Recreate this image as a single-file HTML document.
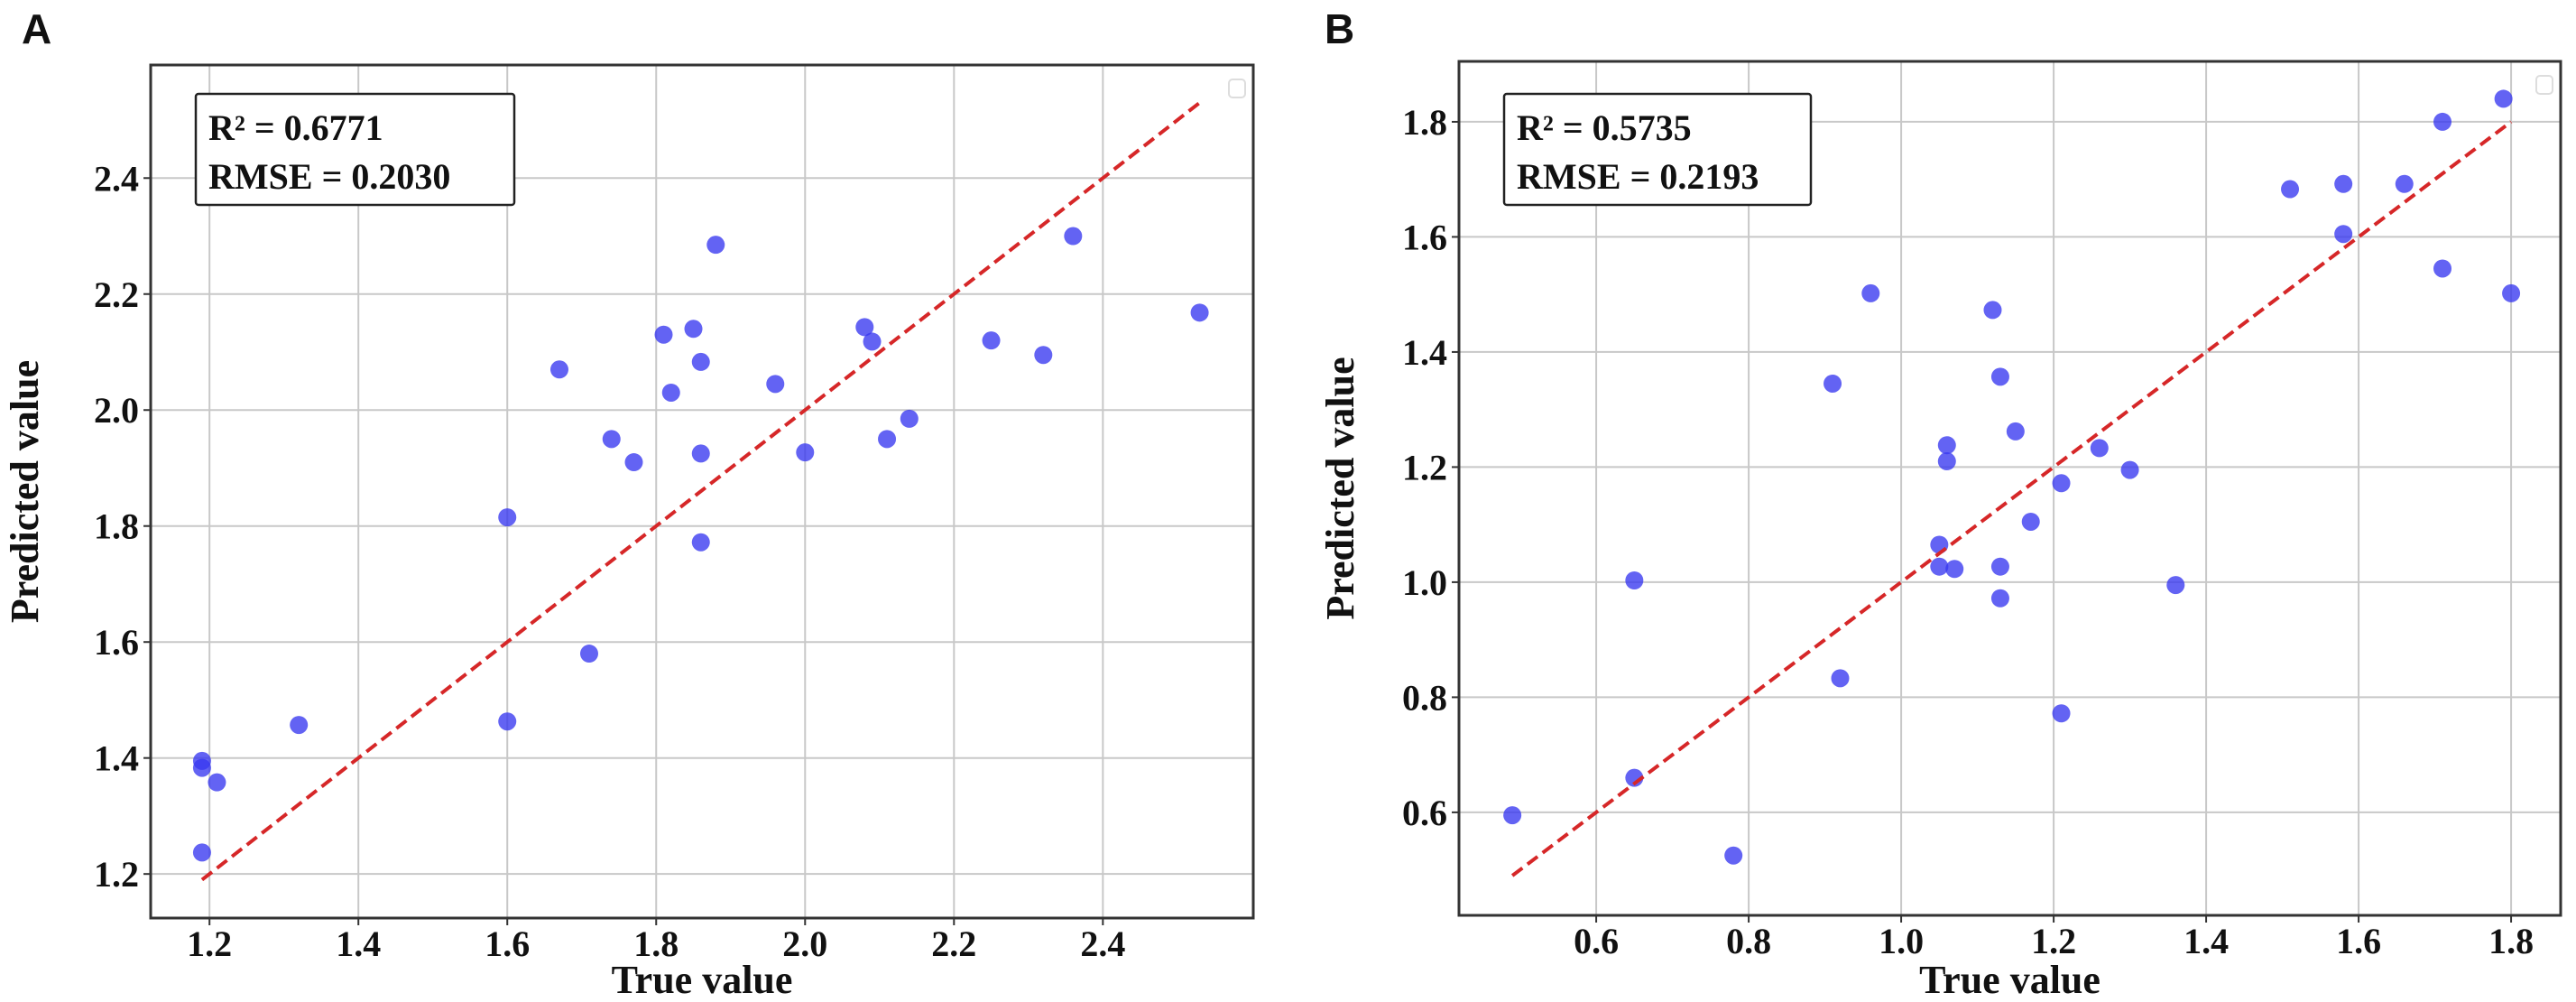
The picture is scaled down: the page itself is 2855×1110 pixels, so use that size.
<!DOCTYPE html>
<html><head><meta charset="utf-8"><style>
html,body{margin:0;padding:0;background:#fff;}
svg{display:block;}
text{font-family:"Liberation Serif",serif;font-weight:bold;fill:#111;}
.lbl{font-family:"Liberation Sans",sans-serif;}
</style></head><body>
<svg id="fig" width="2855" height="1110" viewBox="0 0 2855 1110" xmlns="http://www.w3.org/2000/svg"></svg>
<script>
const aTrue = [1.19,1.19,1.21,1.19,1.32,1.60,1.60,1.67,1.71,1.74,1.77,1.81,1.82,1.85,1.86,1.86,1.86,1.88,1.96,2.00,2.08,2.09,2.11,2.14,2.25,2.32,2.36,2.53];
const aPred = [1.395,1.383,1.358,1.237,1.457,1.815,1.463,2.07,1.58,1.95,1.91,2.13,2.03,2.14,2.083,1.925,1.772,2.285,2.045,1.927,2.143,2.118,1.95,1.985,2.12,2.095,2.30,2.168];
const aLine = [1.19,2.53];
const aTicks = ["1.2","1.4","1.6","1.8","2.0","2.2","2.4"];
const bTrue = [0.49,0.65,0.65,0.78,0.91,0.92,0.96,1.05,1.05,1.06,1.06,1.07,1.12,1.13,1.13,1.13,1.15,1.17,1.21,1.21,1.26,1.30,1.36,1.51,1.58,1.58,1.66,1.71,1.71,1.79,1.80];
const bPred = [0.595,1.003,0.66,0.525,1.345,0.833,1.502,1.065,1.027,1.238,1.21,1.023,1.473,1.357,1.027,0.972,1.262,1.105,1.172,0.772,1.233,1.195,0.995,1.683,1.692,1.605,1.692,1.80,1.545,1.84,1.502];
const bLine = [0.49,1.80];
const bTicks = ["0.6","0.8","1.0","1.2","1.4","1.6","1.8"];
const aStats = ["R² = 0.6771","RMSE = 0.2030"];
const bStats = ["R² = 0.5735","RMSE = 0.2193"];

const NS="http://www.w3.org/2000/svg";
const svg=document.getElementById('fig');
function mk(tag,attrs,parent){const e=document.createElementNS(NS,tag);for(const k in attrs)e.setAttribute(k,attrs[k]);(parent||svg).appendChild(e);return e;}

function panel(p){
  const g=mk('g',{});
  
  
  const sx=v=>p.L+(v-p.x0)/(p.x1-p.x0)*(p.R-p.L);
  const sy=v=>p.B-(v-p.y0)/(p.y1-p.y0)*(p.B-p.T);
  // grid
  p.ticks.forEach(t=>{
    const v=parseFloat(t);
    const gx=mk('line',{x1:sx(v),x2:sx(v),y1:p.T,y2:p.B,stroke:'#c8c8c8','stroke-width':2},g);
    
    
    const gy=mk('line',{x1:p.L,x2:p.R,y1:sy(v),y2:sy(v),stroke:'#c8c8c8','stroke-width':2},g);
    
    
  });
  // frame
  const fr=mk('rect',{x:p.L,y:p.T,width:p.R-p.L,height:p.B-p.T,fill:'none',stroke:'#333','stroke-width':3},g);
  
  
  // ticks + labels
  p.ticks.forEach(t=>{
    const v=parseFloat(t);
    mk('line',{x1:sx(v),x2:sx(v),y1:p.B,y2:p.B+8,stroke:'#333','stroke-width':2},g);
    const tx=mk('text',{x:sx(v),y:p.B+42,'text-anchor':'middle','font-size':40},g);
    tx.textContent=t;
    
    
    mk('line',{x1:p.L-8,x2:p.L,y1:sy(v),y2:sy(v),stroke:'#333','stroke-width':2},g);
    const ty=mk('text',{x:p.L-13,y:sy(v)+14,'text-anchor':'end','font-size':40},g);
    ty.textContent=t;
    
    
  });
  // points
  p.xs.forEach((x,i)=>{
    const c=mk('circle',{cx:sx(x),cy:sy(p.ys[i]),r:10,fill:'rgba(55,55,240,0.78)'},g);
    
    
  });
  // identity line
  const ln=mk('line',{x1:sx(p.line[0]),y1:sy(p.line[0]),x2:sx(p.line[1]),y2:sy(p.line[1]),stroke:'#d62728','stroke-width':4,'stroke-dasharray':'14 7'},g);
  
  
  // stats box
  const bx=mk('rect',{x:p.boxX,y:104,width:p.boxW,height:123,rx:3,fill:'#fff',stroke:'#222','stroke-width':2.5},g);
  
  
  p.stats.forEach((s,i)=>{
    const st=mk('text',{x:p.boxX+14,y:155+i*54,'font-size':40},g);
    st.textContent=s;
    
    
  });
  // empty legend
  const lg=mk('rect',{x:p.R-27,y:p.T+16,width:18,height:20,rx:4,fill:'#fff',stroke:'#ddd','stroke-width':2},g);
  
  
  // axis titles
  const xt=mk('text',{x:(p.L+p.R)/2,y:1100,'text-anchor':'middle','font-size':44},g);
  xt.textContent='True value';
  
  
  const yt=mk('text',{x:0,y:0,'text-anchor':'middle','font-size':44,transform:`translate(${p.yl},${(p.T+p.B)/2}) rotate(-90)`},g);
  yt.textContent='Predicted value';
  
  
  const pl=mk('text',{x:p.lx,y:48,'font-size':46,'class':'lbl'},g);
  pl.textContent=p.id;
  
  
}
panel({id:'A',L:167,R:1389,T:72,B:1017,x0:1.121,x1:2.602,y0:1.124,y1:2.595,ticks:aTicks,xs:aTrue,ys:aPred,line:aLine,stats:aStats,boxX:217,boxW:353,yl:42,lx:24});
panel({id:'B',L:1617,R:2838,T:68,B:1014,x0:0.420,x1:1.865,y0:0.421,y1:1.905,ticks:bTicks,xs:bTrue,ys:bPred,line:bLine,stats:bStats,boxX:1667,boxW:340,yl:1500,lx:1468});
</script>
</body></html>
